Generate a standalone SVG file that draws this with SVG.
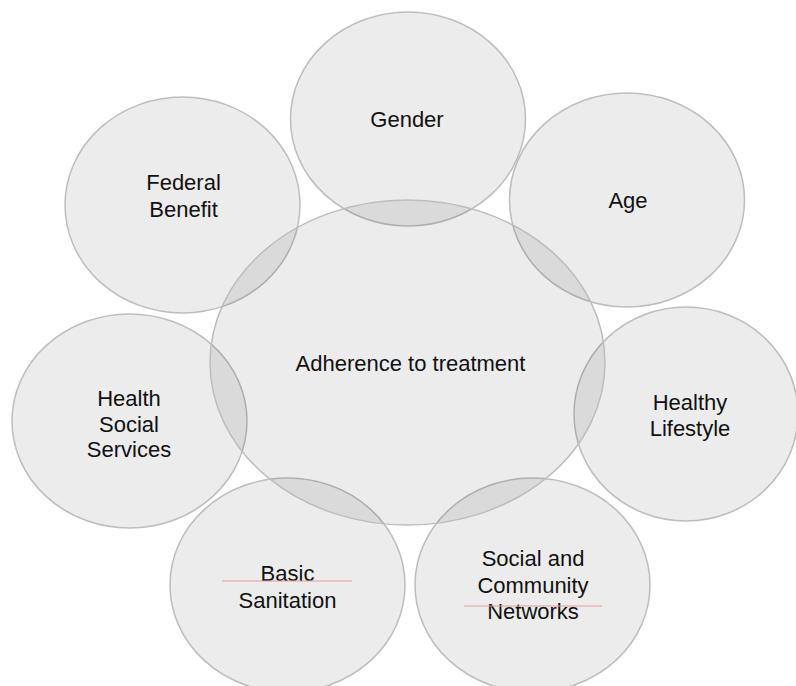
<svg xmlns="http://www.w3.org/2000/svg" width="796" height="686" viewBox="0 0 796 686">
  <style>
    .bubble { fill: #000000; fill-opacity: 0.075; stroke: #bdbdbd; stroke-width: 1.5; }
    .label { font-family: "Liberation Sans", Arial, sans-serif; font-size: 22px; fill: #111111; text-anchor: middle; }
    .spell { stroke: #e89a9a; stroke-width: 1.2; fill: none; }
  </style>
  <rect width="796" height="686" fill="#ffffff"/>

  <g id="gender">
    <ellipse class="bubble" cx="408" cy="119" rx="117.5" ry="107"/>
    <text class="label" x="407" y="127">Gender</text>
  </g>
  <g id="age">
    <ellipse class="bubble" cx="627" cy="200" rx="117.5" ry="107"/>
    <text class="label" x="628" y="208">Age</text>
  </g>
  <g id="federal-benefit">
    <ellipse class="bubble" cx="182.5" cy="205" rx="117.5" ry="108"/>
    <text class="label" x="183.5" y="190">Federal</text>
    <text class="label" x="183.5" y="217">Benefit</text>
  </g>
  <g id="health-social-services">
    <ellipse class="bubble" cx="129.5" cy="421" rx="117.5" ry="107"/>
    <text class="label" x="129" y="406">Health</text>
    <text class="label" x="129" y="431.5">Social</text>
    <text class="label" x="129" y="457">Services</text>
  </g>
  <g id="healthy-lifestyle">
    <ellipse class="bubble" cx="686" cy="414" rx="112" ry="107"/>
    <text class="label" x="690" y="410">Healthy</text>
    <text class="label" x="690" y="436">Lifestyle</text>
  </g>
  <g id="basic-sanitation">
    <ellipse class="bubble" cx="287.5" cy="585" rx="117.5" ry="107"/>
    <text class="label" x="287.5" y="581">Basic</text>
    <text class="label" x="287.5" y="608">Sanitation</text>
    <line class="spell" x1="222" y1="581" x2="352" y2="581"/>
  </g>
  <g id="social-community-networks">
    <ellipse class="bubble" cx="532.5" cy="585" rx="117.5" ry="107"/>
    <text class="label" x="533" y="566">Social and</text>
    <text class="label" x="533" y="593">Community</text>
    <text class="label" x="533" y="619">Networks</text>
    <line class="spell" x1="464" y1="606" x2="602" y2="606"/>
  </g>
  <g id="adherence">
    <ellipse class="bubble" cx="407.5" cy="362.5" rx="197.5" ry="162.5"/>
    <text class="label" x="410.5" y="371">Adherence to treatment</text>
  </g>

  <g id="connectors"/>
</svg>
